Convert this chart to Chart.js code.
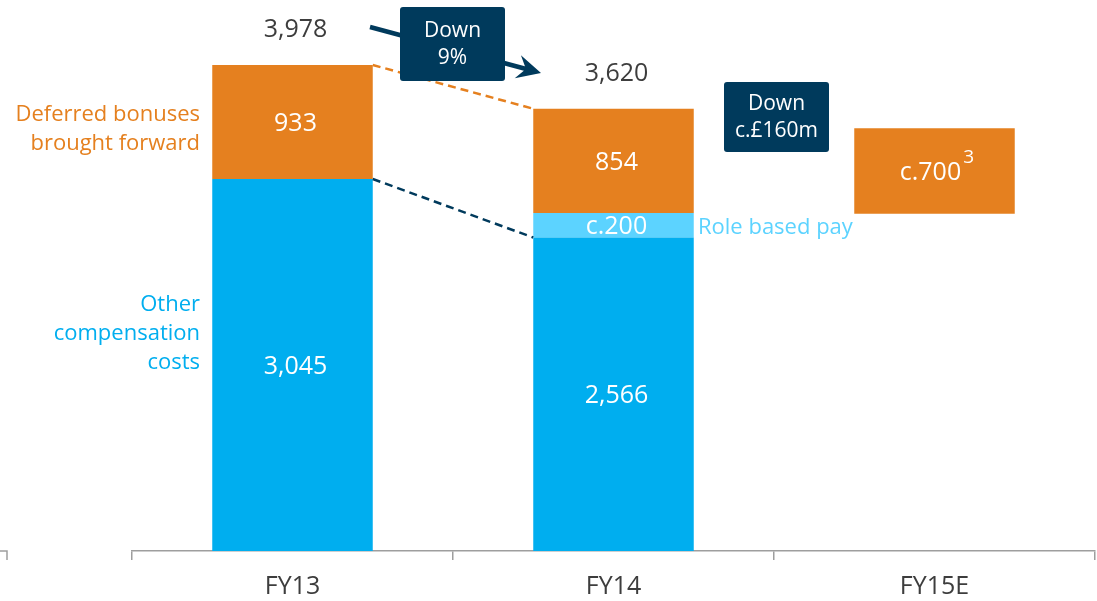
<!DOCTYPE html>
<html>
<head>
<meta charset="utf-8">
<script src="https://cdn.jsdelivr.net/npm/chart.js@4.4.1/dist/chart.umd.min.js"></script>
<style>
  html, body { margin: 0; padding: 0; background: #fff; }
  canvas { display: block; }
</style>
</head>
<body>
<canvas id="grafico" width="1097" height="601"></canvas>
<script>
// Compensation costs by year (£m)
const categories = ['FY13', 'FY14', 'FY15E'];
const otherCompensation = [3045, 2566, null];
const roleBasedPay = [null, 200, null];
const deferredBonuses = [933, 854, [2760, 3460]];

// Estimated values get a "c." prefix
const approxOther = [false, false, false];
const approxRole = [true, true, true];
const approxDeferred = [false, false, true];

// Colours
const LARANJA = '#E5801F';
const AZUL = '#00AEEF';
const AZUL_CLARO = '#5CD3FF';
const MARINHO = '#003A5C';
const TEXTO = '#3D3D3D';
const EIXO = '#9E9E9E';
const FONTE = '"Open Sans", "Noto Sans", sans-serif';

// Formats a segment value, with "c." when it is an estimate
function formatar(valor, aproximado) {
    const txt = Math.round(valor).toLocaleString('en-US');
    return aproximado ? 'c.' + txt : txt;
}

// Value of a data point (floating bars are [start, end])
function valorDe(d) {
    if (d === null || d === undefined) return 0;
    return Array.isArray(d) ? d[1] - d[0] : d;
}

// Draws a navy box with two lines of white text
function caixa(ctx, cx, cy, w, h, linhas) {
    ctx.save();
    ctx.fillStyle = MARINHO;
    ctx.beginPath();
    ctx.roundRect(cx - w / 2, cy - h / 2, w, h, 3);
    ctx.fill();
    ctx.fillStyle = '#fff';
    ctx.font = '21px ' + FONTE;
    ctx.textAlign = 'center';
    ctx.textBaseline = 'middle';
    ctx.fillText(linhas[0], cx, cy - 13);
    ctx.fillText(linhas[1], cx, cy + 14);
    ctx.restore();
}

// Thick arrow with a notched head
function seta(ctx, x1, y1, x2, y2) {
    const ang = Math.atan2(y2 - y1, x2 - x1);
    const comp = 24, larg = 12;
    ctx.save();
    ctx.strokeStyle = MARINHO;
    ctx.fillStyle = MARINHO;
    ctx.lineWidth = 4.5;
    ctx.beginPath();
    ctx.moveTo(x1, y1);
    ctx.lineTo(x2 - Math.cos(ang) * comp * 0.6, y2 - Math.sin(ang) * comp * 0.6);
    ctx.stroke();
    ctx.translate(x2, y2);
    ctx.rotate(ang);
    ctx.beginPath();
    ctx.moveTo(0, 0);
    ctx.lineTo(-comp, -larg);
    ctx.lineTo(-comp * 0.65, 0);
    ctx.lineTo(-comp, larg);
    ctx.closePath();
    ctx.fill();
    ctx.restore();
}

// Plugin with labels, connectors and change callouts
const anotacoes = {
    id: 'anotacoes',
    afterDatasetsDraw(chart) {
        const ctx = chart.ctx;
        const outros = chart.getDatasetMeta(0).data;
        const funcao = chart.getDatasetMeta(1).data;
        const diferidos = chart.getDatasetMeta(2).data;

        // Dashed connectors between FY13 and FY14
        ctx.save();
        ctx.lineWidth = 2.5;
        ctx.setLineDash([8, 5]);
        ctx.strokeStyle = LARANJA;
        ctx.beginPath();
        ctx.moveTo(diferidos[0].x + diferidos[0].width / 2, diferidos[0].y);
        ctx.lineTo(diferidos[1].x - diferidos[1].width / 2, diferidos[1].y);
        ctx.stroke();
        ctx.strokeStyle = MARINHO;
        ctx.beginPath();
        ctx.moveTo(outros[0].x + outros[0].width / 2, outros[0].y);
        ctx.lineTo(outros[1].x - outros[1].width / 2, outros[1].y);
        ctx.stroke();
        ctx.restore();

        // Values inside each segment
        ctx.save();
        ctx.fillStyle = '#fff';
        ctx.textAlign = 'center';
        ctx.textBaseline = 'middle';
        const series = [
            [outros, otherCompensation, approxOther],
            [funcao, roleBasedPay, approxRole],
            [diferidos, deferredBonuses, approxDeferred]
        ];
        series.forEach(([barras, dados, aprox]) => {
            barras.forEach((barra, i) => {
                if (dados[i] === null) return;
                const txt = formatar(valorDe(dados[i]), aprox[i]);
                const cy = (barra.y + barra.base) / 2 + 2;
                ctx.font = '25px ' + FONTE;
                if (Array.isArray(dados[i])) {
                    // footnote marker on the estimate
                    const w = ctx.measureText(txt).width;
                    const cx = barra.x - 4;
                    ctx.fillText(txt, cx, cy);
                    ctx.font = '19px ' + FONTE;
                    ctx.textAlign = 'left';
                    ctx.fillText('3', cx + w / 2 + 2, cy - 15);
                    ctx.textAlign = 'center';
                } else {
                    ctx.fillText(txt, barra.x + 3, cy);
                }
            });
        });
        ctx.restore();

        // Totals above the stacked bars
        ctx.save();
        ctx.fillStyle = TEXTO;
        ctx.font = '25px ' + FONTE;
        ctx.textAlign = 'center';
        ctx.textBaseline = 'middle';
        const totais = [];
        categories.forEach((c, i) => {
            if (Array.isArray(deferredBonuses[i])) return;
            const total = valorDe(otherCompensation[i]) + valorDe(roleBasedPay[i]) + valorDe(deferredBonuses[i]);
            totais.push(total);
            ctx.fillText(total.toLocaleString('en-US'), diferidos[i].x + 3, diferidos[i].y - 35);
        });
        ctx.restore();

        // Series names
        ctx.save();
        ctx.font = '22px ' + FONTE;
        ctx.textBaseline = 'middle';
        ctx.textAlign = 'right';
        ctx.fillStyle = LARANJA;
        ctx.fillText('Deferred bonuses', 200, 115);
        ctx.fillText('brought forward', 200, 144);
        ctx.fillStyle = AZUL;
        ctx.fillText('Other', 200, 305);
        ctx.fillText('compensation', 200, 334);
        ctx.fillText('costs', 200, 363);
        ctx.textAlign = 'left';
        ctx.fillStyle = AZUL_CLARO;
        ctx.fillText('Role based pay', 698, (funcao[1].y + funcao[1].base) / 2 + 2);
        ctx.restore();

        // Change callouts
        const queda = Math.round((totais[0] - totais[1]) / totais[0] * 100);
        const fim15 = deferredBonuses[2][1];
        seta(ctx, 370, 27, 541, 73);
        caixa(ctx, 452.5, 44, 105, 74, ['Down', queda + '%']);
        caixa(ctx, 776.5, 117, 105, 70, ['Down', 'c.£' + (totais[1] - fim15) + 'm']);

        // Stub of the axis at the far left edge
        ctx.save();
        ctx.strokeStyle = EIXO;
        ctx.lineWidth = 1.5;
        ctx.beginPath();
        ctx.moveTo(0, chart.chartArea.bottom);
        ctx.lineTo(7, chart.chartArea.bottom);
        ctx.lineTo(7, chart.chartArea.bottom + 9);
        ctx.stroke();
        ctx.restore();
    }
};

const ctx = document.getElementById('grafico').getContext('2d');
new Chart(ctx, {
    type: 'bar',
    data: {
        labels: categories,
        datasets: [
            { label: 'Other compensation costs', data: otherCompensation, backgroundColor: AZUL },
            { label: 'Role based pay', data: roleBasedPay, backgroundColor: AZUL_CLARO },
            { label: 'Deferred bonuses brought forward', data: deferredBonuses, backgroundColor: LARANJA }
        ]
    },
    options: {
        responsive: false,
        animation: false,
        layout: { padding: { left: 132, right: 2, top: 0, bottom: 0 } },
        datasets: { bar: { barPercentage: 0.5, categoryPercentage: 1 } },
        plugins: {
            legend: { display: false },
            tooltip: { enabled: false }
        },
        scales: {
            x: {
                stacked: true,
                grid: { display: true, drawOnChartArea: false, tickLength: 9, color: EIXO, lineWidth: 1.5 },
                border: { display: true, color: EIXO, width: 1.5 },
                ticks: { color: TEXTO, font: { family: FONTE, size: 25 }, padding: 12 },
                afterFit(scale) { scale.height = 50; }
            },
            y: {
                stacked: true,
                display: false,
                min: 0,
                max: 4510
            }
        }
    },
    plugins: [anotacoes]
});
</script>
</body>
</html>
